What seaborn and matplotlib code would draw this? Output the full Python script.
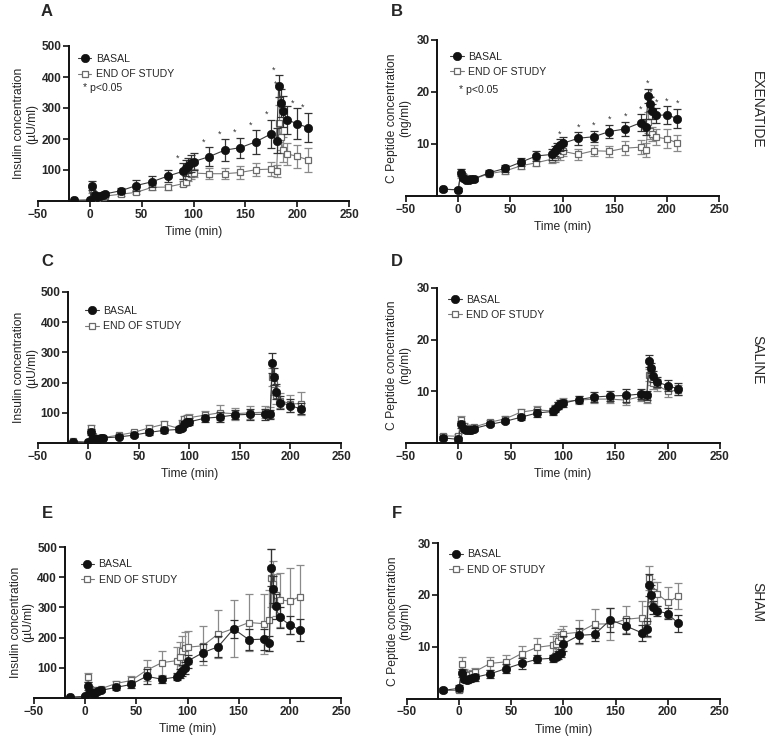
import matplotlib
matplotlib.use("Agg")
import matplotlib.pyplot as plt
import seaborn as sns

time_min = [-15, 0, 2.5, 5, 7.5, 10, 12.5, 15, 30, 45, 60, 75, 90, 92.5, 95, 97.5, 100,
            115, 130, 145, 160, 175, 180, 182, 184, 186, 190, 200, 210]

# A - exenatide, insulin (uU/ml)
exe_ins_basal = [2, 3, 50, 20, 14, 15, 19, 23, 33, 50, 62, 80, 96, 106, 114, 122, 127,
                 143, 164, 172, 191, 217, 195, 371, 315, 290, 262, 249, 237]
exe_ins_basal_sem = [2, 2, 13, 5, 4, 4, 4, 5, 8, 17, 18, 20, 25, 25, 25, 27, 27,
                     30, 35, 32, 38, 45, 40, 35, 45, 50, 45, 50, 47]
exe_ins_end = [2, 3, 38, 15, 10, 12, 13, 16, 22, 28, 44, 45, 56, 62, 78, 86, 90,
               88, 88, 92, 101, 103, 97, 251, 208, 165, 152, 144, 133]
exe_ins_end_sem = [1, 2, 12, 5, 4, 4, 4, 4, 5, 6, 8, 8, 8, 10, 12, 14, 14,
                   18, 18, 20, 20, 22, 20, 60, 45, 40, 35, 38, 38]
exe_ins_sig = [90, 115, 130, 145, 160, 175, 182, 184, 200, 210]

# B - exenatide, C peptide (ng/ml)
exe_cp_basal = [1.3, 1.2, 4.5, 3.5, 3.0, 3.0, 3.2, 3.3, 4.5, 5.3, 6.5, 7.7, 8.0, 8.6, 9.2, 9.8, 10.1,
                11.1, 11.4, 12.4, 12.9, 14.1, 13.3, 19.2, 17.7, 16.3, 15.5, 15.6, 14.9]
exe_cp_basal_sem = [0.3, 0.3, 0.6, 0.5, 0.4, 0.4, 0.4, 0.4, 0.5, 0.6, 0.8, 0.9, 1.0, 1.0, 1.0, 1.1, 1.2,
                    1.2, 1.1, 1.3, 1.4, 1.6, 1.6, 1.4, 1.3, 1.4, 1.5, 1.7, 1.9]
exe_cp_end = [1.3, 1.2, 4.3, 3.8, 3.4, 3.2, 3.3, 3.3, 4.3, 4.8, 5.8, 6.4, 7.1, 7.5, 7.8, 8.0, 8.6,
              8.0, 8.7, 8.6, 9.2, 9.4, 8.8, 14.2, 12.5, 11.9, 11.3, 11.0, 10.2]
exe_cp_end_sem = [0.3, 0.3, 0.8, 0.5, 0.5, 0.5, 0.5, 0.5, 0.5, 0.5, 0.6, 0.7, 0.8, 0.9, 0.9, 1.0, 1.0,
                  1.1, 1.1, 1.1, 1.3, 1.4, 1.3, 2.0, 1.5, 1.3, 1.5, 1.8, 1.5]
exe_cp_sig = [97.5, 115, 130, 145, 160, 175, 182, 184, 186, 190, 200, 210]

# C - saline, insulin
sal_ins_basal = [3, 2, 36, 15, 13, 14, 16, 17, 20, 26, 35, 42, 45, 50, 62, 68, 70,
                 82, 86, 93, 95, 95, 95, 264, 219, 170, 134, 124, 113]
sal_ins_basal_sem = [2, 2, 10, 5, 4, 4, 4, 4, 5, 6, 7, 8, 8, 8, 10, 10, 12,
                     12, 15, 15, 18, 18, 15, 33, 28, 25, 20, 22, 18]
sal_ins_end = [6, 3, 50, 22, 16, 16, 16, 18, 26, 35, 50, 62, 48, 65, 78, 82, 84,
               92, 100, 97, 100, 102, 100, 220, 195, 160, 140, 130, 130]
sal_ins_end_sem = [3, 2, 10, 5, 4, 4, 4, 4, 5, 5, 8, 10, 8, 10, 12, 12, 12,
                   15, 25, 20, 22, 20, 18, 30, 35, 30, 25, 28, 38]

# D - saline, C peptide
sal_cp_basal = [1.0, 0.7, 3.6, 2.7, 2.5, 2.5, 2.6, 2.8, 3.6, 4.2, 5.0, 5.8, 6.1, 6.6, 7.2, 7.6, 7.7,
                8.4, 8.9, 9.1, 9.2, 9.5, 9.2, 15.9, 14.5, 12.9, 11.8, 11.1, 10.5]
sal_cp_basal_sem = [0.4, 0.4, 0.6, 0.4, 0.4, 0.4, 0.4, 0.4, 0.4, 0.4, 0.5, 0.7, 0.6, 0.6, 0.7, 0.7, 0.7,
                    0.7, 0.9, 1.0, 1.2, 0.9, 0.9, 1.2, 1.0, 1.0, 1.0, 1.1, 1.2]
sal_cp_end = [1.4, 1.3, 4.5, 3.3, 3.0, 2.9, 3.0, 3.1, 4.0, 4.7, 6.0, 6.4, 6.2, 6.8, 7.3, 7.7, 8.0,
              8.3, 8.5, 8.5, 8.3, 9.0, 8.6, 13.2, 12.5, 11.6, 11.2, 10.0, 10.2]
sal_cp_end_sem = [0.4, 0.4, 0.7, 0.5, 0.4, 0.4, 0.4, 0.4, 0.4, 0.5, 0.6, 0.7, 0.6, 0.6, 0.7, 0.7, 0.7,
                  0.8, 0.8, 0.8, 0.9, 0.9, 0.8, 1.2, 1.2, 1.2, 1.2, 1.0, 1.0]

# E - sham, insulin
sham_ins_basal = [2, 6, 40, 20, 16, 18, 22, 25, 35, 45, 72, 62, 70, 80, 90, 100, 122,
                  150, 170, 229, 193, 195, 181, 432, 360, 303, 267, 242, 225]
sham_ins_basal_sem = [3, 4, 12, 6, 5, 5, 6, 6, 8, 12, 25, 12, 12, 15, 18, 20, 22,
                      28, 35, 30, 35, 35, 25, 60, 45, 40, 35, 30, 35]
sham_ins_end = [3, 3, 68, 30, 25, 22, 25, 30, 48, 58, 92, 117, 124, 135, 155, 165, 168,
                173, 212, 230, 250, 246, 257, 397, 378, 340, 325, 321, 336]
sham_ins_end_sem = [2, 2, 15, 8, 6, 6, 6, 6, 8, 15, 35, 40, 45, 50, 50, 55, 55,
                    65, 80, 95, 95, 100, 100, 95, 75, 70, 90, 110, 105]

# F - sham, C peptide
sham_cp_basal = [1.6, 2.0, 4.9, 3.8, 3.6, 3.8, 4.0, 4.1, 4.8, 5.8, 6.8, 7.6, 7.8, 8.1, 8.4, 8.8, 10.6,
                 12.2, 12.4, 15.2, 14.0, 12.7, 13.5, 21.9, 19.9, 17.6, 16.9, 16.4, 14.5]
sham_cp_basal_sem = [0.4, 0.6, 0.8, 0.6, 0.6, 0.6, 0.6, 0.6, 0.8, 0.8, 1.0, 0.8, 0.7, 0.7, 0.7, 0.8, 1.5,
                     1.5, 1.2, 2.3, 1.5, 1.5, 1.5, 2.2, 2.0, 1.2, 1.0, 1.0, 1.7]
sham_cp_end = [1.6, 1.6, 6.7, 5.0, 4.3, 4.5, 4.8, 5.2, 6.8, 7.1, 8.7, 9.9, 10.3, 10.6, 11.2, 11.8, 12.5,
               12.8, 14.4, 14.4, 15.3, 15.6, 14.9, 23.2, 20.8, 20.5, 20.2, 18.6, 19.7]
sham_cp_end_sem = [0.4, 0.4, 1.3, 0.8, 0.8, 0.8, 0.8, 0.8, 1.2, 1.3, 1.4, 1.8, 1.8, 1.8, 1.7, 1.6, 1.6,
                   2.3, 2.8, 3.0, 2.6, 3.2, 3.0, 2.3, 2.2, 2.0, 2.3, 3.0, 2.5]

row_labels = ["EXENATIDE", "SALINE", "SHAM"]
ins_label = "Insulin concentration\n(\u00b5U/ml)"
cp_label = "C Peptide concentration\n(ng/ml)"

sns.set_style("ticks")
plt.rcParams["font.family"] = ["Liberation Sans", "DejaVu Sans"]

W, H = 767, 745
fig = plt.figure(figsize=(W / 100, H / 100), dpi=100)


def px_axes(x0, x1, y_top, y_bot):
    return fig.add_axes([x0 / W, 1 - y_bot / H, (x1 - x0) / W, (y_bot - y_top) / H])


# letter, axes box (px), data, y label, y max, significant times, star shift,
# legend anchor, p-value note position, y label x (axes coords)
panels = [
    ("A", (37.7, 349.3, 46, 201), exe_ins_basal, exe_ins_basal_sem, exe_ins_end, exe_ins_end_sem,
     ins_label, 500, exe_ins_sig, -5, (0.115, 0.976), (0.145, 0.73), 0.002),
    ("B", (406, 719, 40, 196), exe_cp_basal, exe_cp_basal_sem, exe_cp_end, exe_cp_end_sem,
     cp_label, 30, exe_cp_sig, 0, (0.128, 0.953), (0.17, 0.68), 0.016),
    ("C", (37.7, 341, 292, 443), sal_ins_basal, sal_ins_basal_sem, sal_ins_end, sal_ins_end_sem,
     ins_label, 500, [], 0, (0.142, 0.934), None, 0.002),
    ("D", (406, 720, 288, 443), sal_cp_basal, sal_cp_basal_sem, sal_cp_end, sal_cp_end_sem,
     cp_label, 30, [], 0, (0.12, 0.985), None, 0.016),
    ("E", (34, 341, 547, 698), sham_ins_basal, sham_ins_basal_sem, sham_ins_end, sham_ins_end_sem,
     ins_label, 500, [], 0, (0.138, 0.947), None, 0.002),
    ("F", (406.7, 720, 543, 698.7), sham_cp_basal, sham_cp_basal_sem, sham_cp_end, sham_cp_end_sem,
     cp_label, 30, [], 0, (0.121, 0.987), None, 0.016),
]

letter_pos = {"A": (47, 12), "B": (397, 12), "C": (47, 262), "D": (397, 262), "E": (47, 513), "F": (397, 513)}

for letter, box, basal, basal_sem, end, end_sem, ylab, ymax, sig, star_dx, leg_xy, note_xy, ylab_x in panels:
    ax = px_axes(*box)

    # end of study first so basal sits on top
    ax.errorbar(time_min, end, yerr=end_sem, fmt="none", ecolor="#8a8a8a",
                elinewidth=0.9, capsize=2.8, capthick=0.9, zorder=2)
    sns.lineplot(x=time_min, y=end, ax=ax, color="#7a7a7a", linewidth=0.8,
                 marker="s", markersize=5, markerfacecolor="white",
                 markeredgecolor="#6a6a6a", markeredgewidth=0.9,
                 label="END OF STUDY", zorder=3)
    ax.errorbar(time_min, basal, yerr=basal_sem, fmt="none", ecolor="#333333",
                elinewidth=0.9, capsize=2.8, capthick=0.9, zorder=4)
    sns.lineplot(x=time_min, y=basal, ax=ax, color="#3a3a3a", linewidth=0.8,
                 marker="o", markersize=6, markerfacecolor="#111111",
                 markeredgecolor="#111111", markeredgewidth=0.5,
                 label="BASAL", zorder=5)

    for t in sig:
        i = time_min.index(t)
        ax.text(t + star_dx, basal[i] + basal_sem[i] + ymax * 0.005, "*",
                ha="center", va="bottom", fontsize=6.5, color="#333333")

    ax.set_xlim(-50, 250)
    ax.set_ylim(0, ymax)
    ax.set_xticks(range(-50, 251, 50))
    ax.set_yticks([100, 200, 300, 400, 500] if ymax == 500 else [10, 20, 30])
    sns.despine(ax=ax)
    ax.spines["left"].set_position(("data", -20))
    ax.spines["left"].set_bounds(0, ymax)
    for s in ("left", "bottom"):
        ax.spines[s].set_linewidth(1.4)
        ax.spines[s].set_color("#111111")
    ax.tick_params(axis="both", length=4, width=1.2, color="#111111", labelsize=8.5, pad=1.5)
    for lab in ax.get_xticklabels() + ax.get_yticklabels():
        lab.set_fontweight("bold")

    ax.set_xlabel("Time (min)", fontsize=8.7, labelpad=4)
    ax.set_ylabel(ylab, fontsize=8.7, linespacing=1.1)
    ax.yaxis.set_label_coords(ylab_x, 0.5)

    handles, labels = ax.get_legend_handles_labels()
    order = [labels.index("BASAL"), labels.index("END OF STUDY")]
    ax.legend([handles[k] for k in order], [labels[k] for k in order],
              loc="upper left", bbox_to_anchor=leg_xy, frameon=False,
              fontsize=7.6, handlelength=1.3, handletextpad=0.4, labelspacing=0.5,
              borderaxespad=0)
    if note_xy is not None:
        ax.text(note_xy[0], note_xy[1], "* p<0.05", transform=ax.transAxes, fontsize=7.6,
                ha="left", va="center")

    lx, ly = letter_pos[letter]
    fig.text(lx / W, 1 - ly / H, letter, fontsize=12, fontweight="bold",
             ha="center", va="center")

for name, yc in zip(row_labels, [110, 360, 602]):
    fig.text(757 / W, 1 - yc / H, name, rotation=270, fontsize=10,
             ha="center", va="center")

fig.savefig("out.png", dpi=100)
